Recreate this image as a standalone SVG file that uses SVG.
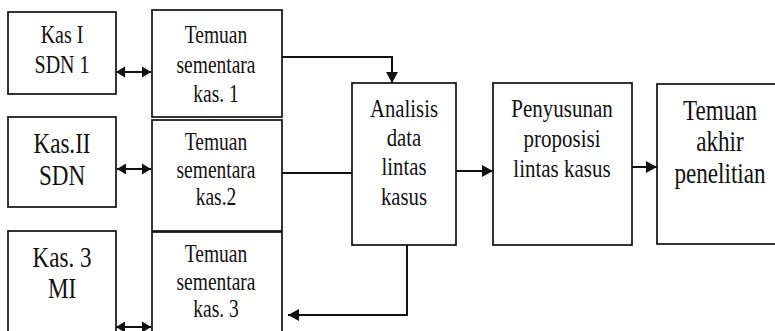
<svg xmlns="http://www.w3.org/2000/svg" width="775" height="331" viewBox="0 0 775 331">
  <style>
    .box { fill: #fff; stroke: #111; stroke-width: 1.7; }
    .wire { fill: none; stroke: #111; stroke-width: 2; }
    text { font-family: 'Liberation Serif', 'Times New Roman', Tinos, 'DejaVu Serif', serif; fill: #111; text-anchor: middle; }
    .sm { font-size: 25px; }
    .lg { font-size: 30px; }
  </style>
  <defs>
    <marker id="head" markerUnits="userSpaceOnUse" markerWidth="12" markerHeight="14" refX="11" refY="7" orient="auto">
      <path d="M0,1 L11,7 L0,13 Z" fill="#111"/>
    </marker>
    <marker id="tip" markerUnits="userSpaceOnUse" markerWidth="10" markerHeight="12" refX="9" refY="6" orient="auto-start-reverse">
      <path d="M0,0.5 L9,6 L0,11.5 Z" fill="#111"/>
    </marker>
  </defs>

  <rect width="775" height="331" fill="#fff"/>

  <g id="kas1">
    <rect class="box" x="8" y="12" width="108" height="82"/>
    <text class="sm" font-family="Liberation Serif, serif" transform="translate(62,0) scale(0.8,1)"><tspan x="0" y="43">Kas I</tspan><tspan x="0" y="73">SDN 1</tspan></text>
  </g>
  <g id="kas2">
    <rect class="box" x="8" y="117" width="108" height="90"/>
    <text class="lg" font-family="Liberation Serif, serif" transform="translate(62,0) scale(0.77,1)"><tspan x="0" y="153">Kas.II</tspan><tspan x="0" y="185">SDN</tspan></text>
  </g>
  <g id="kas3">
    <rect class="box" x="8" y="231" width="108" height="110"/>
    <text class="lg" font-family="Liberation Serif, serif" transform="translate(62,0) scale(0.77,1)"><tspan x="0" y="267">Kas. 3</tspan><tspan x="0" y="298">MI</tspan></text>
  </g>

  <g id="temuan1">
    <rect class="box" x="152" y="10" width="130" height="107"/>
    <text class="sm" font-family="Liberation Serif, serif" transform="translate(216,0) scale(0.78,1)"><tspan x="0" y="43">Temuan</tspan><tspan x="0" y="73">sementara</tspan><tspan x="0" y="102">kas. 1</tspan></text>
  </g>
  <g id="temuan2">
    <rect class="box" x="152" y="120" width="130" height="111"/>
    <text class="sm" font-family="Liberation Serif, serif" transform="translate(216,0) scale(0.78,1)"><tspan x="0" y="150">Temuan</tspan><tspan x="0" y="178">sementara</tspan><tspan x="0" y="205">kas.2</tspan></text>
  </g>
  <g id="temuan3">
    <rect class="box" x="152" y="232" width="130" height="110"/>
    <text class="sm" font-family="Liberation Serif, serif" transform="translate(216,0) scale(0.78,1)"><tspan x="0" y="262">Temuan</tspan><tspan x="0" y="290">sementara</tspan><tspan x="0" y="317">kas. 3</tspan></text>
  </g>

  <g id="analisis">
    <rect class="box" x="352" y="83" width="104" height="162"/>
    <text class="sm" font-family="Liberation Serif, serif" transform="translate(404,0) scale(0.83,1)"><tspan x="0" y="117">Analisis</tspan><tspan x="0" y="146">data</tspan><tspan x="0" y="175">lintas</tspan><tspan x="0" y="205">kasus</tspan></text>
  </g>
  <g id="penyusunan">
    <rect class="box" x="493" y="83" width="139" height="162"/>
    <text class="sm" font-family="Liberation Serif, serif" transform="translate(562,0) scale(0.84,1)"><tspan x="0" y="117">Penyusunan</tspan><tspan x="0" y="147">proposisi</tspan><tspan x="0" y="177">lintas kasus</tspan></text>
  </g>
  <g id="temuan-akhir">
    <rect class="box" x="657" y="84" width="130" height="160"/>
    <text class="lg" font-family="Liberation Serif, serif" transform="translate(720,0) scale(0.77,1)"><tspan x="0" y="120">Temuan</tspan><tspan x="0" y="151">akhir</tspan><tspan x="0" y="183">penelitian</tspan></text>
  </g>

  <g id="connectors">
    <line class="wire" x1="116" y1="72" x2="151" y2="72" marker-start="url(#tip)" marker-end="url(#tip)"/>
    <line class="wire" x1="117" y1="169" x2="151" y2="169" marker-start="url(#tip)" marker-end="url(#tip)"/>
    <line class="wire" x1="116" y1="327" x2="151" y2="327" marker-start="url(#tip)" marker-end="url(#tip)"/>
    <path class="wire" d="M282,57 H392 V83" marker-end="url(#head)"/>
    <path class="wire" d="M282,173 H352"/>
    <path class="wire" d="M456,171 H493" marker-end="url(#head)"/>
    <path class="wire" d="M632,167 H657" marker-end="url(#head)"/>
    <path class="wire" d="M407,245 V315 H288" marker-end="url(#head)"/>
  </g>
</svg>
